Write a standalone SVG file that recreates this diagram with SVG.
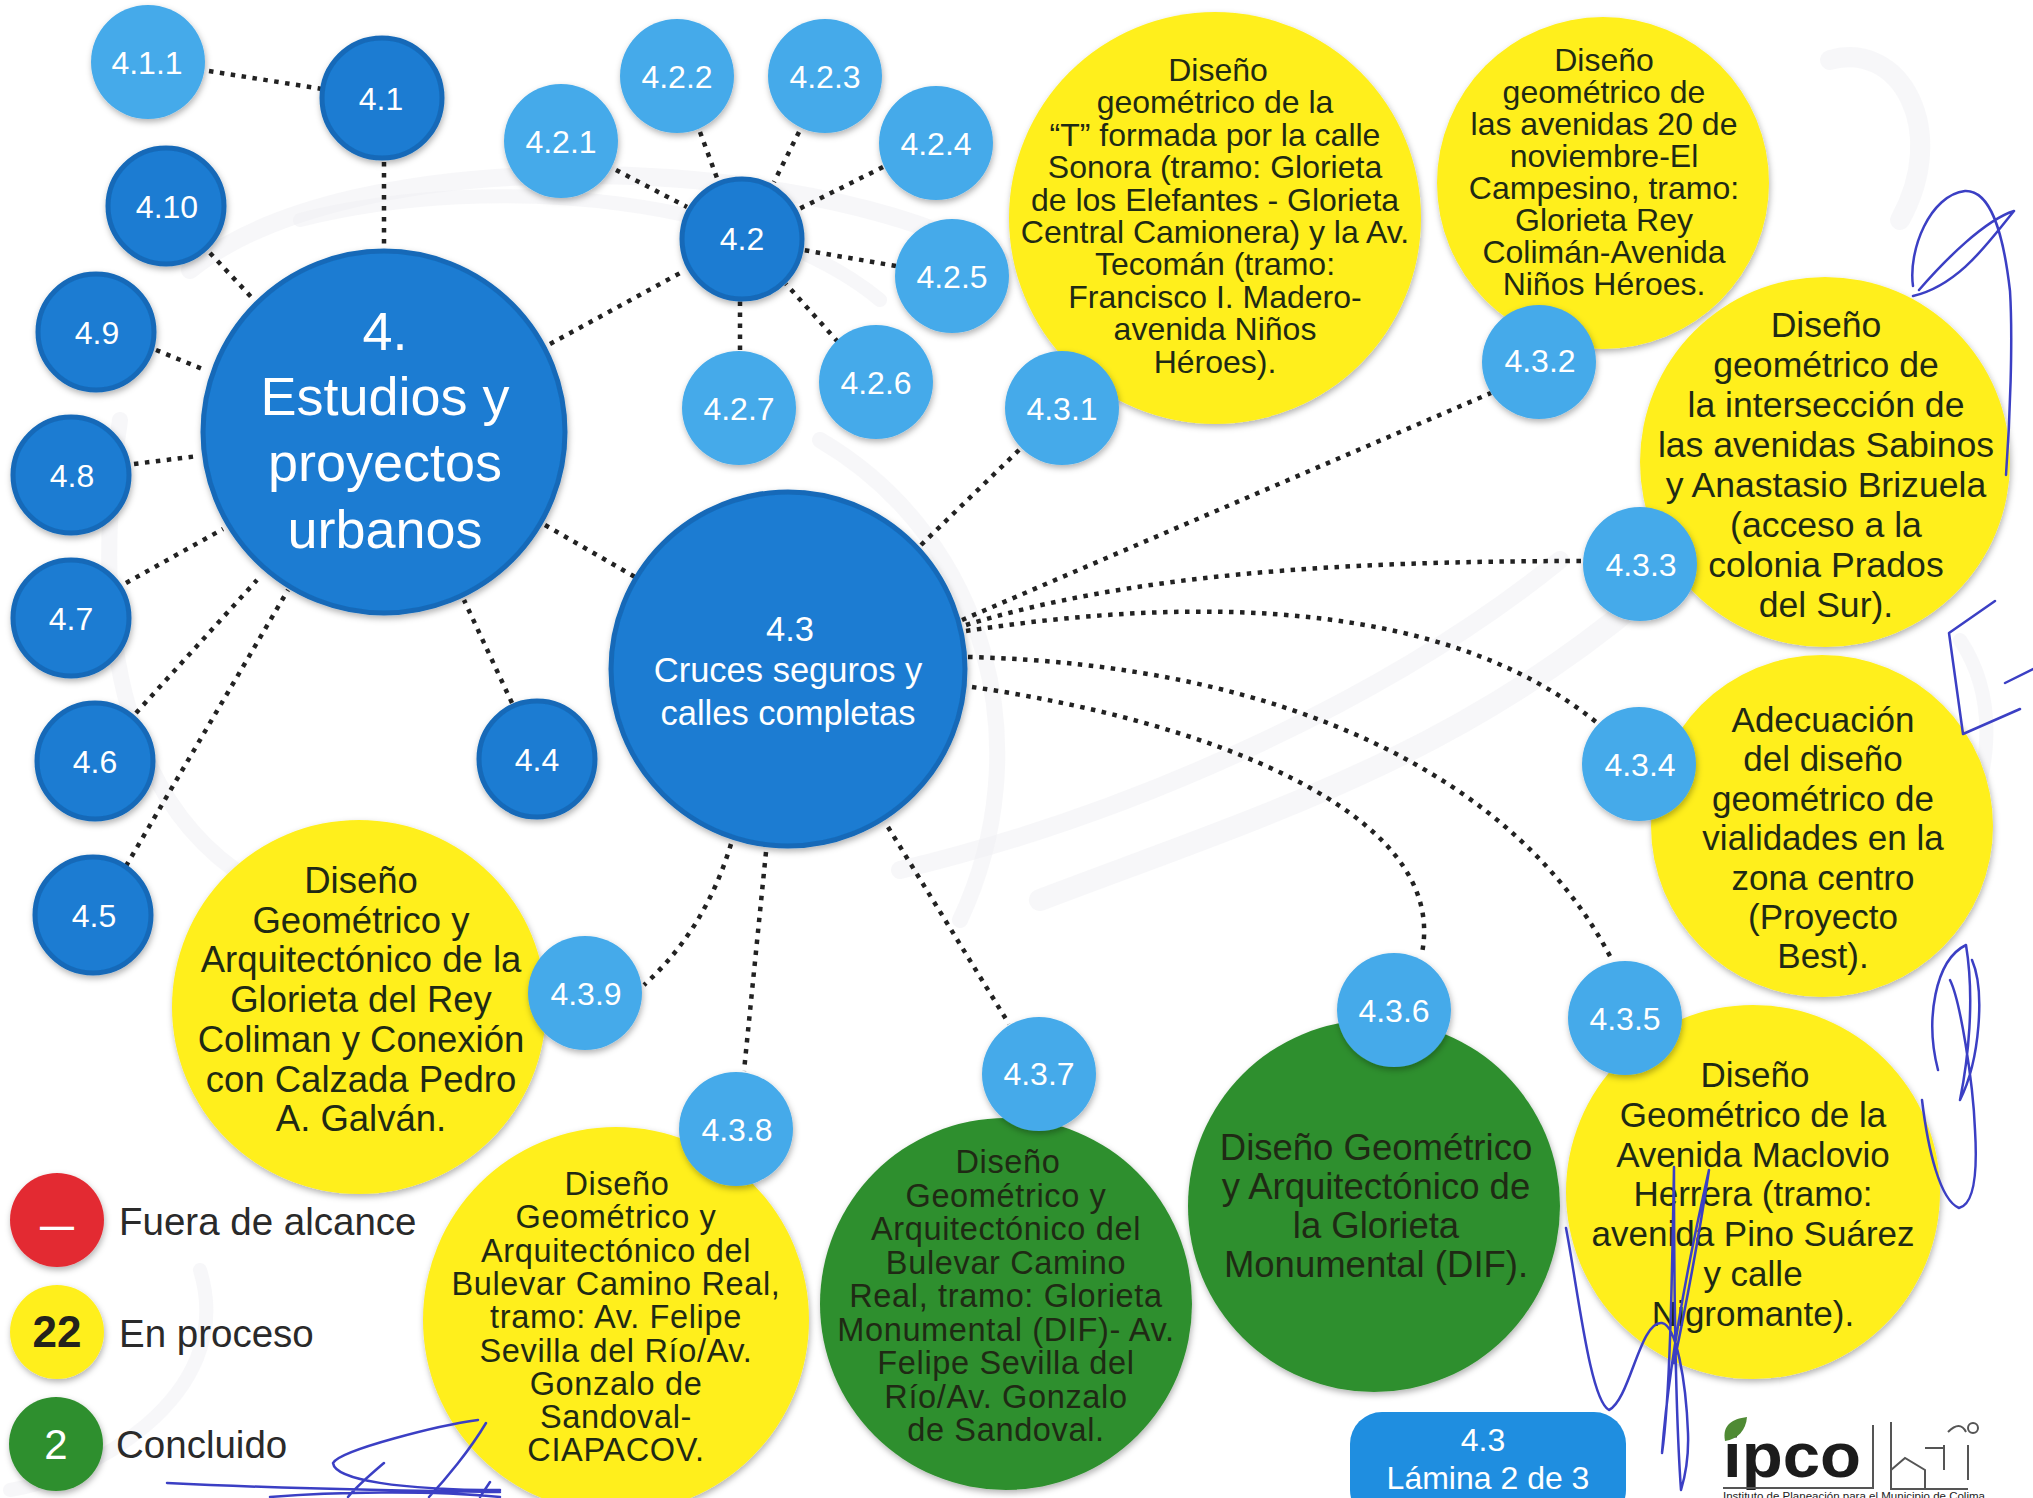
<svg xmlns="http://www.w3.org/2000/svg" width="2033" height="1498" viewBox="0 0 2033 1498">
<defs>
<filter id="s" x="-20%" y="-20%" width="140%" height="140%"><feDropShadow dx="1" dy="3" stdDeviation="3" flood-color="#000" flood-opacity=".3"/></filter>
<style>
text{font-family:"Liberation Sans",Arial,sans-serif;text-anchor:middle}
.dk{fill:#1a7cd2;stroke:#1469b8;stroke-width:5;filter:url(#s)}
.lt{fill:#45aaea;filter:url(#s)}
.ye{fill:#ffef1d;filter:url(#s)}
.gr{fill:#2f8f2e;filter:url(#s)}
.w{fill:#fff}
.k{fill:#24231c}
.g{fill:#1f2a14}
.n{font-size:32px;fill:#fff}
.t35{font-size:35px}
.t355{font-size:35.6px}
.t36{font-size:36.5px}
.t34{font-size:32.5px;letter-spacing:.65px}
.t32{font-size:32px}
.leg{font-size:38.5px;fill:#2a2a2a;text-anchor:start}
.c{fill:none;stroke:#222;stroke-width:4.5;stroke-dasharray:4.5 6.5}
.sig{fill:none;stroke:#3b3fc4;stroke-width:2.5;stroke-linecap:round;stroke-linejoin:round}
.sm{fill:none;stroke:#f0f0f4;stroke-linecap:round;opacity:.5}
</style>
</defs>
<rect width="2033" height="1498" fill="#fff"/>
<g id="smudges">
<path class="sm" stroke-width="18" d="M190 270 C350 140 800 150 1000 260"/>
<path class="sm" stroke-width="14" d="M300 220 C500 170 760 200 880 300"/>
<path class="sm" stroke-width="16" d="M120 420 C90 620 120 800 250 880"/>
<path class="sm" stroke-width="22" d="M1040 900 C1250 820 1450 760 1640 600"/>
<path class="sm" stroke-width="18" d="M900 870 C1150 810 1400 690 1560 560"/>
<path class="sm" stroke-width="16" d="M820 440 C990 540 1040 750 960 920"/>
<path class="sm" stroke-width="20" d="M1830 60 C1900 40 1950 130 1900 220"/>
<path class="sm" stroke-width="14" d="M1960 640 C2000 700 1990 780 1960 830"/>
<path class="sm" stroke-width="14" d="M200 1270 C240 1400 80 1480 10 1490"/>
</g>
<g id="connectors">
<path class="c" d="M209 71L322 89"/>
<path class="c" d="M384 162V249"/>
<path class="c" d="M210 253L254 300"/>
<path class="c" d="M156 350L205 370"/>
<path class="c" d="M134 464L198 456"/>
<path class="c" d="M126 583L223 529"/>
<path class="c" d="M136 713L257 580"/>
<path class="c" d="M126 866L288 590"/>
<path class="c" d="M512 703L464 600"/>
<path class="c" d="M545 525L635 577"/>
<path class="c" d="M550 344L682 272"/>
<path class="c" d="M616 170L687 207"/>
<path class="c" d="M700 132L717 178"/>
<path class="c" d="M799 132L774 182"/>
<path class="c" d="M883 167L797 210"/>
<path class="c" d="M896 266L803 250"/>
<path class="c" d="M838 342L786 284"/>
<path class="c" d="M740 350V301"/>
<path class="c" d="M921 545L1019 450"/>
<path class="c" d="M962 620L1491 393"/>
<path class="c" d="M966 625C1130 575 1330 561 1584 561"/>
<path class="c" d="M966 631C1200 595 1450 600 1601 726"/>
<path class="c" d="M968 657C1290 665 1520 780 1612 960"/>
<path class="c" d="M972 687C1200 720 1450 810 1422 953"/>
<path class="c" d="M888 827L1009 1024"/>
<path class="c" d="M766 852L744 1071"/>
<path class="c" d="M731 844Q705 930 644 985"/>
</g>
<g id="d431"><circle class="ye" cx="1215" cy="218" r="206"/><text class="g t32" y="81"><tspan x="1218">Diseño</tspan><tspan x="1215" dy="32.4">geométrico de la</tspan><tspan x="1215" dy="32.4">“T” formada por la calle</tspan><tspan x="1215" dy="32.4">Sonora (tramo: Glorieta</tspan><tspan x="1215" dy="32.4">de los Elefantes - Glorieta</tspan><tspan x="1215" dy="32.4">Central Camionera) y la Av.</tspan><tspan x="1215" dy="32.4">Tecomán (tramo:</tspan><tspan x="1215" dy="32.4">Francisco I. Madero-</tspan><tspan x="1215" dy="32.4">avenida Niños</tspan><tspan x="1215" dy="32.4">Héroes).</tspan></text></g>
<g id="d432"><circle class="ye" cx="1603" cy="183" r="166"/><text class="g t32" y="71"><tspan x="1604">Diseño</tspan><tspan x="1604" dy="32">geométrico de</tspan><tspan x="1604" dy="32">las avenidas 20 de</tspan><tspan x="1604" dy="32">noviembre-El</tspan><tspan x="1604" dy="32">Campesino, tramo:</tspan><tspan x="1604" dy="32">Glorieta Rey</tspan><tspan x="1604" dy="32">Colimán-Avenida</tspan><tspan x="1604" dy="32">Niños Héroes.</tspan></text></g>
<g id="d433"><circle class="ye" cx="1825" cy="462" r="185"/><text class="g t355" y="337"><tspan x="1826">Diseño</tspan><tspan x="1826" dy="40">geométrico de</tspan><tspan x="1826" dy="40">la intersección de</tspan><tspan x="1826" dy="40">las avenidas Sabinos</tspan><tspan x="1826" dy="40">y Anastasio Brizuela</tspan><tspan x="1826" dy="40">(acceso a la</tspan><tspan x="1826" dy="40">colonia Prados</tspan><tspan x="1826" dy="40">del Sur).</tspan></text></g>
<g id="d434"><circle class="ye" cx="1822" cy="826" r="171"/><text class="g t35" y="732"><tspan x="1823">Adecuación</tspan><tspan x="1823" dy="39.4">del diseño</tspan><tspan x="1823" dy="39.4">geométrico de</tspan><tspan x="1823" dy="39.4">vialidades en la</tspan><tspan x="1823" dy="39.4">zona centro</tspan><tspan x="1823" dy="39.4">(Proyecto</tspan><tspan x="1823" dy="39.4">Best).</tspan></text></g>
<g id="d435"><circle class="ye" cx="1753" cy="1192" r="187"/><text class="g t35" y="1087"><tspan x="1755">Diseño</tspan><tspan x="1753" dy="39.8">Geométrico de la</tspan><tspan x="1753" dy="39.8">Avenida Maclovio</tspan><tspan x="1753" dy="39.8">Herrera (tramo:</tspan><tspan x="1753" dy="39.8">avenida Pino Suárez</tspan><tspan x="1753" dy="39.8">y calle</tspan><tspan x="1753" dy="39.8">Nigromante).</tspan></text></g>
<g id="d436"><circle class="gr" cx="1374" cy="1206" r="186"/><text class="g t36" y="1160"><tspan x="1376">Diseño Geométrico</tspan><tspan x="1376" dy="39">y Arquitectónico de</tspan><tspan x="1376" dy="39">la Glorieta</tspan><tspan x="1376" dy="39">Monumental (DIF).</tspan></text></g>
<g id="d437"><circle class="gr" cx="1006" cy="1304" r="186"/><text class="g t34" y="1173"><tspan x="1008">Diseño</tspan><tspan x="1006" dy="33.5">Geométrico y</tspan><tspan x="1006" dy="33.5">Arquitectónico del</tspan><tspan x="1006" dy="33.5">Bulevar Camino</tspan><tspan x="1006" dy="33.5">Real, tramo: Glorieta</tspan><tspan x="1006" dy="33.5">Monumental (DIF)- Av.</tspan><tspan x="1006" dy="33.5">Felipe Sevilla del</tspan><tspan x="1006" dy="33.5">Río/Av. Gonzalo</tspan><tspan x="1006" dy="33.5">de Sandoval.</tspan></text></g>
<g id="d438"><circle class="ye" cx="616" cy="1320" r="193"/><text class="g t34" y="1195"><tspan x="617">Diseño</tspan><tspan x="616" dy="33.3">Geométrico y</tspan><tspan x="616" dy="33.3">Arquitectónico del</tspan><tspan x="616" dy="33.3">Bulevar Camino Real,</tspan><tspan x="616" dy="33.3">tramo: Av. Felipe</tspan><tspan x="616" dy="33.3">Sevilla del Río/Av.</tspan><tspan x="616" dy="33.3">Gonzalo de</tspan><tspan x="616" dy="33.3">Sandoval-</tspan><tspan x="616" dy="33.3">CIAPACOV.</tspan></text></g>
<g id="d439"><circle class="ye" cx="359" cy="1007" r="187"/><text class="g t36" y="893"><tspan x="361">Diseño</tspan><tspan x="361" dy="39.7">Geométrico y</tspan><tspan x="361" dy="39.7">Arquitectónico de la</tspan><tspan x="361" dy="39.7">Glorieta del Rey</tspan><tspan x="361" dy="39.7">Coliman y Conexión</tspan><tspan x="361" dy="39.7">con Calzada Pedro</tspan><tspan x="361" dy="39.7">A. Galván.</tspan></text></g>
<g id="n4"><circle class="dk" cx="384" cy="432" r="181"/><text class="w" font-size="54"><tspan x="385" y="350">4.</tspan><tspan x="385" y="415">Estudios y</tspan><tspan x="385" y="481">proyectos</tspan><tspan x="385" y="548">urbanos</tspan></text></g>
<g id="n43"><circle class="dk" cx="788" cy="669" r="177"/><text class="w" font-size="34.5"><tspan x="790" y="641">4.3</tspan><tspan x="788" y="682">Cruces seguros y</tspan><tspan x="788" y="725">calles completas</tspan></text></g>
<g id="n41"><circle class="dk" cx="382" cy="98" r="60"/><text class="n" x="381" y="110">4.1</text></g>
<g id="n410"><circle class="dk" cx="166" cy="206" r="58"/><text class="n" x="167" y="218">4.10</text></g>
<g id="n49"><circle class="dk" cx="96" cy="332" r="58"/><text class="n" x="97" y="344">4.9</text></g>
<g id="n48"><circle class="dk" cx="71" cy="475" r="58"/><text class="n" x="72" y="487">4.8</text></g>
<g id="n47"><circle class="dk" cx="71" cy="618" r="58"/><text class="n" x="71" y="630">4.7</text></g>
<g id="n46"><circle class="dk" cx="95" cy="761" r="58"/><text class="n" x="95" y="773">4.6</text></g>
<g id="n45"><circle class="dk" cx="93" cy="915" r="58"/><text class="n" x="94" y="927">4.5</text></g>
<g id="n44"><circle class="dk" cx="537" cy="759" r="58"/><text class="n" x="537" y="771">4.4</text></g>
<g id="n42"><circle class="dk" cx="742" cy="239" r="60"/><text class="n" x="742" y="250">4.2</text></g>
<g id="n411"><circle class="lt" cx="148" cy="62" r="57"/><text class="n" x="147" y="74">4.1.1</text></g>
<g id="n421"><circle class="lt" cx="561" cy="141" r="57"/><text class="n" x="561" y="153">4.2.1</text></g>
<g id="n422"><circle class="lt" cx="677" cy="76" r="57"/><text class="n" x="677" y="88">4.2.2</text></g>
<g id="n423"><circle class="lt" cx="825" cy="76" r="57"/><text class="n" x="825" y="88">4.2.3</text></g>
<g id="n424"><circle class="lt" cx="936" cy="143" r="57"/><text class="n" x="936" y="155">4.2.4</text></g>
<g id="n425"><circle class="lt" cx="952" cy="276" r="57"/><text class="n" x="952" y="288">4.2.5</text></g>
<g id="n426"><circle class="lt" cx="876" cy="382" r="57"/><text class="n" x="876" y="394">4.2.6</text></g>
<g id="n427"><circle class="lt" cx="739" cy="408" r="57"/><text class="n" x="739" y="420">4.2.7</text></g>
<g id="n431"><circle class="lt" cx="1062" cy="408" r="57"/><text class="n" x="1062" y="420">4.3.1</text></g>
<g id="n432"><circle class="lt" cx="1539" cy="362" r="57"/><text class="n" x="1540" y="372">4.3.2</text></g>
<g id="n433"><circle class="lt" cx="1640" cy="564" r="57"/><text class="n" x="1641" y="576">4.3.3</text></g>
<g id="n434"><circle class="lt" cx="1639" cy="764" r="57"/><text class="n" x="1640" y="776">4.3.4</text></g>
<g id="n435"><circle class="lt" cx="1625" cy="1018" r="57"/><text class="n" x="1625" y="1030">4.3.5</text></g>
<g id="n436"><circle class="lt" cx="1394" cy="1010" r="57"/><text class="n" x="1394" y="1022">4.3.6</text></g>
<g id="n437"><circle class="lt" cx="1039" cy="1074" r="57"/><text class="n" x="1039" y="1085">4.3.7</text></g>
<g id="n438"><circle class="lt" cx="736" cy="1129" r="57"/><text class="n" x="737" y="1141">4.3.8</text></g>
<g id="n439"><circle class="lt" cx="585" cy="993" r="57"/><text class="n" x="586" y="1005">4.3.9</text></g>
<g id="legend">
<circle cx="57" cy="1220" r="47" fill="#e32b33" filter="url(#s)"/><text x="57" y="1237" class="w" font-size="34" font-weight="bold">—</text><text class="leg" x="119" y="1235">Fuera de alcance</text>
<circle class="ye" cx="57" cy="1332" r="47"/><text x="57" y="1347" class="k" font-size="44" font-weight="bold">22</text><text class="leg" x="119" y="1347">En proceso</text>
<circle class="gr" cx="56" cy="1444" r="47"/><text x="56" y="1459" class="w" font-size="42">2</text><text class="leg" x="116" y="1458">Concluido</text>
</g>
<g id="badge"><rect x="1350" y="1412" width="276" height="110" rx="32" fill="#1f8ee0"/><text class="w" font-size="32"><tspan x="1483" y="1451">4.3</tspan><tspan x="1488" y="1489">Lámina 2 de 3</tspan></text></g>
<g id="logo">
<text x="1723" y="1477" font-size="63" font-weight="bold" fill="#1c1c1c" style="text-anchor:start" textLength="138" lengthAdjust="spacingAndGlyphs">ipco</text>
<path d="M1725 1441C1722 1425 1732 1419 1747 1417C1746 1430 1738 1439 1725 1441Z" fill="#4f8a34"/>
<path d="M1873 1425V1488H1723M1891 1422V1489H1968M1891 1470L1905 1458L1925 1470V1490M1925 1448H1944M1944 1445V1470M1968 1445V1480M1948 1432Q1960 1420 1966 1432" fill="none" stroke="#555" stroke-width="2"/>
<circle cx="1973" cy="1428" r="5" fill="none" stroke="#555" stroke-width="2"/>
<text x="1723" y="1500" font-size="11.5" fill="#222" style="text-anchor:start" textLength="262">Instituto de Planeación para el Municipio de Colima</text>
</g>
<g id="signatures">
<path class="sig" d="M1913 296C1960 285 1990 240 2014 211C1985 220 1945 260 1919 290M1913 286C1908 250 1930 195 1965 191C1990 190 2003 230 2010 291C2013 340 2010 420 2006 475"/>
<path class="sig" d="M1995 601L1949 633L1963 734L2020 709M2005 683L2033 669"/>
<path class="sig" d="M1938 1070C1925 1020 1935 960 1966 945C1975 1000 1968 1060 1960 1100C1980 1060 1985 990 1972 960M1922 1100C1928 1150 1940 1200 1959 1208C1972 1205 1978 1180 1975 1130C1973 1080 1960 1000 1950 980"/>
<path class="sig" d="M1566 1228C1578 1290 1590 1400 1609 1410C1630 1400 1640 1320 1662 1323C1676 1325 1686 1380 1688 1433C1689 1460 1684 1480 1681 1490C1676 1420 1674 1300 1674 1167C1672 1280 1670 1400 1662 1453C1666 1400 1675 1320 1709 1170C1700 1230 1685 1310 1674 1363"/>
<path class="sig" d="M478 1420C440 1425 340 1450 333 1463C335 1480 400 1490 500 1490M486 1423C470 1450 445 1480 429 1497M384 1463C370 1475 358 1485 348 1497M167 1483C250 1487 330 1490 500 1492M270 1497C330 1492 430 1490 500 1497M490 1482L480 1497"/>
</g>
</svg>
